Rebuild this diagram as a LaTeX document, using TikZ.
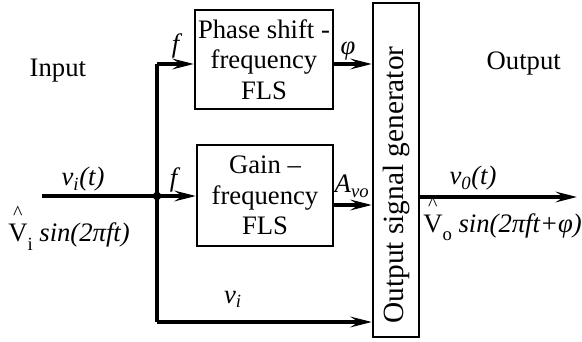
\documentclass[tikz,border=0pt]{standalone}
\usepackage{fontspec}
\setmainfont{Liberation Serif}
\usetikzlibrary{arrows.meta}
\newcommand{\hatV}[1]{\ooalign{V\cr\hidewidth\raisebox{17pt}{\fontsize{15}{15}\selectfont\textasciicircum}\hidewidth\cr}\raisebox{-6pt}{\fontsize{14}{14}\selectfont #1}}

\begin{document}
\begin{tikzpicture}[x=0.75pt,y=-0.75pt,
  font=\fontsize{20}{23}\selectfont,
  block/.style={draw,line width=1.8pt,inner sep=0pt,align=center},
  sig/.style={line width=2.4pt,-{Stealth[length=16pt,width=8pt,inset=6pt]}},
  wire/.style={line width=2.4pt}]
  \useasboundingbox (0,0) rectangle (582,342);
  % blocks
  \node[block,minimum width=103.5pt,minimum height=74pt] (ps) at (264,59.5)
    {Phase shift -\\frequency\\FLS};
  \node[block,minimum width=102pt,minimum height=75.75pt] (gn) at (265,195.5)
    {Gain –\\frequency\\FLS};
  \node[block,minimum width=34.5pt,minimum height=250.5pt] (gen) at (396,170) {};
  \node[rotate=90,font=\fontsize{22}{24}\selectfont] (gentxt) at (396,185) {Output signal generator};
  % branch points
  \coordinate (in) at (42,196);
  \coordinate (jn) at (157,196);
  \coordinate (top) at (157,64);
  \coordinate (bot) at (157,322);
  \coordinate (amp) at (333,205);
  \coordinate (out) at (577,197);
  % signal lines
  \draw[wire] (in) -- (jn);
  \draw[wire] (top) -- (bot);
  \fill (jn) circle (3.2pt);
  \draw[sig] (top) -- (top -| ps.west);
  \draw[sig] (jn) -- (jn -| gn.west);
  \draw[sig] (ps.east |- top) -- (top -| gen.west);
  \draw[sig] (amp) -- (amp -| gen.west);
  \draw[sig] (bot) -- (bot -| gen.west);
  \draw[sig] (gen.east |- out) -- (out);
  % labels
  \node[anchor=base west] (inlbl) at (25,77) {Input};
  \node[anchor=base west] (outlbl) at (482,70) {Output};
  \node[anchor=base] (vit) at (83,186) {\textit{v}\textsubscript{\textit{i}}\textit{(t)}};
  \node[anchor=base] (f1) at (177,53) {\textit{f}};
  \node[anchor=base] (f2) at (175,187) {\textit{f}};
  \node[anchor=base] (phi) at (348,55) {\textit{φ}};
  \node[anchor=base] (avo) at (352,193) {\textit{A}\textsubscript{\textit{vo}}};
  \node[anchor=base] (vot) at (473,185) {\textit{v}\textsubscript{\textit{0}}\textit{(t)}};
  \node[anchor=base] (vi) at (233,303) {\textit{v}\textsubscript{\textit{i}}};
  \node[anchor=base west,inner sep=0pt] (vin) at (8,242) {\hatV{i} \textit{sin(2πft)}};
  \node[anchor=base west,inner sep=0pt] (vout) at (423,233) {\hatV{o} \textit{sin(2πft+φ)}};
\end{tikzpicture}
\end{document}
